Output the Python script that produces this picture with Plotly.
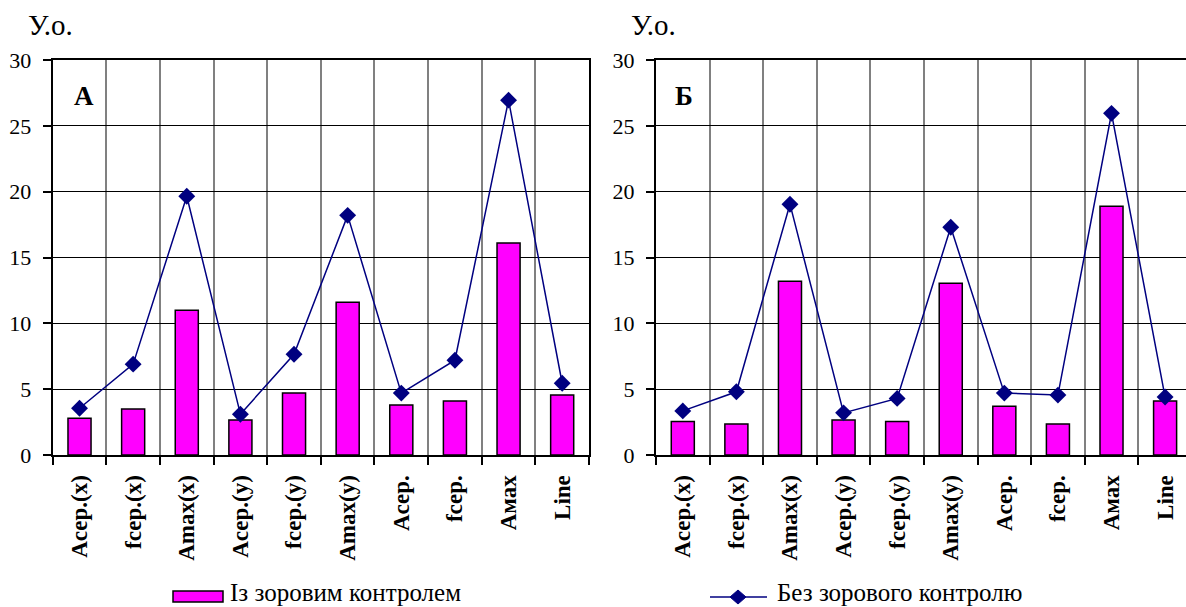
import plotly.graph_objects as go

# Categories on the horizontal axis (same for both panels)
categories = ["Aсер.(x)", "fсер.(x)", "Amax(x)", "Aсер.(y)", "fсер.(y)",
              "Amax(y)", "Aсер.", "fсер.", "Aмах", "Line"]

# Panel А
with_control_a = [2.8, 3.5, 11.0, 2.65, 4.7, 11.6, 3.8, 4.1, 16.1, 4.55]
without_control_a = [3.55, 6.9, 19.65, 3.1, 7.65, 18.2, 4.7, 7.2, 26.95, 5.45]

# Panel Б
with_control_b = [2.55, 2.35, 13.2, 2.65, 2.55, 13.05, 3.7, 2.35, 18.9, 4.1]
without_control_b = [3.35, 4.8, 19.05, 3.2, 4.3, 17.3, 4.7, 4.55, 25.95, 4.4]

y_ticks = [0, 5, 10, 15, 20, 25, 30]

name_bar = "Із зоровим контролем"
name_line = "Без зорового контролю"

W, H = 1186, 607
SERIF = "Liberation Serif"
MAGENTA = "#FF00FF"
NAVY = "#000080"


def px(x):
    return x / W


def py(y):
    return 1 - y / H


fig = go.Figure()

panels = [
    ("x", "y", with_control_a, without_control_a),
    ("x2", "y2", with_control_b, without_control_b),
]
for xa, ya, bars, line in panels:
    fig.add_trace(go.Bar(
        x=categories, y=bars, xaxis=xa, yaxis=ya, name=name_bar,
        width=0.43, marker=dict(color=MAGENTA, line=dict(color="black", width=1.5)),
        showlegend=False,
    ))
    fig.add_trace(go.Scatter(
        x=categories, y=line, xaxis=xa, yaxis=ya, name=name_line,
        mode="lines+markers", line=dict(color=NAVY, width=1.5),
        marker=dict(symbol="diamond", size=13, color=NAVY),
        showlegend=False, cliponaxis=False,
    ))

common_x = dict(
    type="category", tickson="boundaries", ticks="outside", ticklen=8,
    tickwidth=2, tickcolor="black", showline=True, linewidth=2, linecolor="black",
    mirror=True, showgrid=True, gridcolor="#808080", gridwidth=1.5,
    tickangle=-90, ticklabelstandoff=9,
    tickfont=dict(family=SERIF, size=23, color="black", weight="bold"),
    fixedrange=True, automargin=False,
)
common_y = dict(
    range=[0, 30], tickvals=y_ticks, ticks="outside", ticklen=8, tickwidth=1.5,
    tickcolor="black", showline=True, linewidth=2, linecolor="black",
    showgrid=True, gridcolor="black", gridwidth=1, zeroline=False,
    ticklabelstandoff=7,
    tickfont=dict(family=SERIF, size=22, color="black"), fixedrange=True,
    automargin=False,
)

y_dom = [py(455), py(60)]

fig.update_layout(
    width=W, height=H,
    margin=dict(l=0, r=0, t=0, b=0, pad=0, autoexpand=False),
    paper_bgcolor="white", plot_bgcolor="white",
    font=dict(family=SERIF),
    showlegend=False,
    bargap=0.5,
    xaxis=dict(common_x, domain=[px(52.7), px(589)], range=[-0.5, 9.5], anchor="y"),
    yaxis=dict(common_y, domain=y_dom, anchor="x", mirror=True),
    xaxis2=dict(common_x, domain=[px(656), 1.0], range=[-0.5, 9.39], anchor="y2"),
    yaxis2=dict(common_y, domain=y_dom, anchor="x2", mirror=False),
)

annotations = [
    dict(text="У.о.", x=px(26), y=py(25), font=dict(size=29)),
    dict(text="У.о.", x=px(629), y=py(25), font=dict(size=29)),
    dict(text="А", x=px(72), y=py(96), font=dict(size=27, weight="bold")),
    dict(text="Б", x=px(673), y=py(96), font=dict(size=27, weight="bold")),
    dict(text=name_bar, x=px(228), y=py(592), font=dict(size=25)),
    dict(text=name_line, x=px(775), y=py(592), font=dict(size=25)),
]
for a in annotations:
    a["font"] = dict(family=SERIF, color="black", **a["font"])
    fig.add_annotation(xref="paper", yref="paper", xanchor="left", yanchor="middle",
                       showarrow=False, **a)

# Legend keys
fig.add_shape(type="rect", xref="paper", yref="paper",
              x0=px(173), x1=px(223), y0=py(602), y1=py(591),
              fillcolor=MAGENTA, line=dict(color="black", width=1.5))
fig.add_shape(type="line", xref="paper", yref="paper",
              x0=px(710), x1=px(767), y0=py(597), y1=py(597),
              line=dict(color=NAVY, width=1.5))
cx, cy, dx, dy = 738, 597, 8, 7
fig.add_shape(type="path", xref="paper", yref="paper",
              path=(f"M {px(cx - dx)},{py(cy)} L {px(cx)},{py(cy - dy)} "
                    f"L {px(cx + dx)},{py(cy)} L {px(cx)},{py(cy + dy)} Z"),
              fillcolor=NAVY, line=dict(color=NAVY, width=1))

fig.write_html("out.html")
